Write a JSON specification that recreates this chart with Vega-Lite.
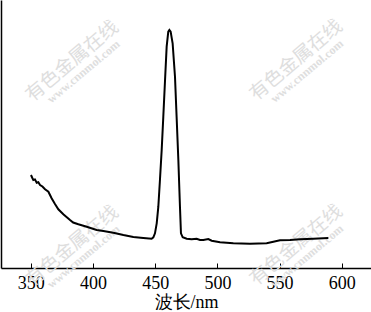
{
  "$schema": "https://vega.github.io/schema/vega-lite/v6.json",
  "width": 370,
  "height": 268,
  "autosize": {"type": "none"},
  "padding": {"left": 1, "top": 0, "right": 0, "bottom": 44},
  "background": "white",
  "config": {"view": {"stroke": null}},
  "datasets": {
    "spectrum": [
      {"wavelength": 350.1, "intensity": 93.0},
      {"wavelength": 351.2, "intensity": 90.0},
      {"wavelength": 352.0, "intensity": 88.0},
      {"wavelength": 353.3, "intensity": 88.6},
      {"wavelength": 354.7, "intensity": 85.3},
      {"wavelength": 356.0, "intensity": 85.8},
      {"wavelength": 357.4, "intensity": 83.0},
      {"wavelength": 359.3, "intensity": 81.5},
      {"wavelength": 361.4, "intensity": 78.7},
      {"wavelength": 364.1, "intensity": 76.3},
      {"wavelength": 366.7, "intensity": 69.7},
      {"wavelength": 369.4, "intensity": 64.0},
      {"wavelength": 372.1, "intensity": 58.7},
      {"wavelength": 376.1, "intensity": 53.7},
      {"wavelength": 381.5, "intensity": 48.0},
      {"wavelength": 384.0, "intensity": 45.5},
      {"wavelength": 388.2, "intensity": 43.7},
      {"wavelength": 394.9, "intensity": 41.3},
      {"wavelength": 402.9, "intensity": 38.0},
      {"wavelength": 408.3, "intensity": 37.0},
      {"wavelength": 416.3, "intensity": 35.3},
      {"wavelength": 424.4, "intensity": 33.0},
      {"wavelength": 432.4, "intensity": 31.0},
      {"wavelength": 440.4, "intensity": 30.0},
      {"wavelength": 447.1, "intensity": 29.3},
      {"wavelength": 448.5, "intensity": 30.7},
      {"wavelength": 449.8, "intensity": 34.7},
      {"wavelength": 451.2, "intensity": 44.7},
      {"wavelength": 452.5, "intensity": 61.3},
      {"wavelength": 453.8, "intensity": 88.0},
      {"wavelength": 455.2, "intensity": 118.0},
      {"wavelength": 456.5, "intensity": 151.3},
      {"wavelength": 457.9, "intensity": 188.0},
      {"wavelength": 459.2, "intensity": 221.3},
      {"wavelength": 460.5, "intensity": 236.3},
      {"wavelength": 461.4, "intensity": 238.0},
      {"wavelength": 462.4, "intensity": 236.3},
      {"wavelength": 464.0, "intensity": 224.7},
      {"wavelength": 465.9, "intensity": 191.3},
      {"wavelength": 467.2, "intensity": 151.3},
      {"wavelength": 468.6, "intensity": 108.0},
      {"wavelength": 469.9, "intensity": 61.3},
      {"wavelength": 470.7, "intensity": 34.7},
      {"wavelength": 472.1, "intensity": 30.7},
      {"wavelength": 475.3, "intensity": 29.3},
      {"wavelength": 479.3, "intensity": 28.7},
      {"wavelength": 483.3, "intensity": 29.3},
      {"wavelength": 486.0, "intensity": 28.0},
      {"wavelength": 488.7, "intensity": 28.0},
      {"wavelength": 492.7, "intensity": 29.0},
      {"wavelength": 495.4, "intensity": 27.3},
      {"wavelength": 502.1, "intensity": 25.7},
      {"wavelength": 512.8, "intensity": 24.7},
      {"wavelength": 526.2, "intensity": 24.3},
      {"wavelength": 539.6, "intensity": 24.7},
      {"wavelength": 545.0, "intensity": 26.3},
      {"wavelength": 550.3, "intensity": 27.7},
      {"wavelength": 558.4, "intensity": 28.0},
      {"wavelength": 566.4, "intensity": 28.7},
      {"wavelength": 577.1, "intensity": 29.3},
      {"wavelength": 589.2, "intensity": 30.0}
    ],
    "watermark": [
      {"wavelength": 383.1, "intensity": 207, "text": "有色金属在线", "kind": "name"},
      {"wavelength": 392.3, "intensity": 196.5, "text": "www.cnnmol.com", "kind": "url"},
      {"wavelength": 563.2, "intensity": 208, "text": "有色金属在线", "kind": "name"},
      {"wavelength": 572.0, "intensity": 197, "text": "www.cnnmol.com", "kind": "url"},
      {"wavelength": 383.1, "intensity": 22, "text": "有色金属在线", "kind": "name"},
      {"wavelength": 392.3, "intensity": 11.5, "text": "www.cnnmol.com", "kind": "url"},
      {"wavelength": 563.2, "intensity": 23, "text": "有色金属在线", "kind": "name"},
      {"wavelength": 572.0, "intensity": 12, "text": "www.cnnmol.com", "kind": "url"}
    ]
  },
  "layer": [
    {
      "data": {"name": "watermark"},
      "transform": [{"filter": "datum.kind === 'name'"}],
      "mark": {"type": "text", "angle": 320, "font": "Noto Sans CJK SC", "fontSize": 19, "color": "#dedede", "align": "center", "baseline": "middle"},
      "encoding": {
        "x": {"field": "wavelength", "type": "quantitative"},
        "y": {"field": "intensity", "type": "quantitative"},
        "text": {"field": "text"}
      }
    },
    {
      "data": {"name": "watermark"},
      "transform": [{"filter": "datum.kind === 'url'"}],
      "mark": {"type": "text", "angle": 320, "font": "Liberation Serif", "fontSize": 12, "fontWeight": "bold", "color": "#dedede", "align": "center", "baseline": "middle"},
      "encoding": {
        "x": {"field": "wavelength", "type": "quantitative"},
        "y": {"field": "intensity", "type": "quantitative"},
        "text": {"field": "text"}
      }
    },
    {
      "data": {"name": "spectrum"},
      "mark": {"type": "line", "color": "black", "strokeWidth": 2, "interpolate": "linear"},
      "encoding": {
        "x": {
          "field": "wavelength",
          "type": "quantitative",
          "scale": {"domain": [326, 623.5], "nice": false, "zero": false},
          "axis": {
            "title": "波长/nm",
            "values": [350, 400, 450, 500, 550, 600],
            "grid": false,
            "domainColor": "black",
            "domainWidth": 1.5,
            "tickColor": "black",
            "tickSize": -5,
            "tickWidth": 1,
            "labelFont": "Liberation Serif",
            "labelFontSize": 18,
            "labelColor": "black",
            "labelPadding": 11,
            "labelFlush": false,
            "titleFont": "Liberation Serif",
            "titleFontSize": 18,
            "titleFontWeight": "normal",
            "titleColor": "black",
            "titlePadding": 1
          }
        },
        "y": {
          "field": "intensity",
          "type": "quantitative",
          "scale": {"domain": [0, 268], "nice": false},
          "axis": {
            "title": null,
            "labels": false,
            "ticks": false,
            "grid": false,
            "domainColor": "black",
            "domainWidth": 1.5
          }
        }
      }
    }
  ]
}
